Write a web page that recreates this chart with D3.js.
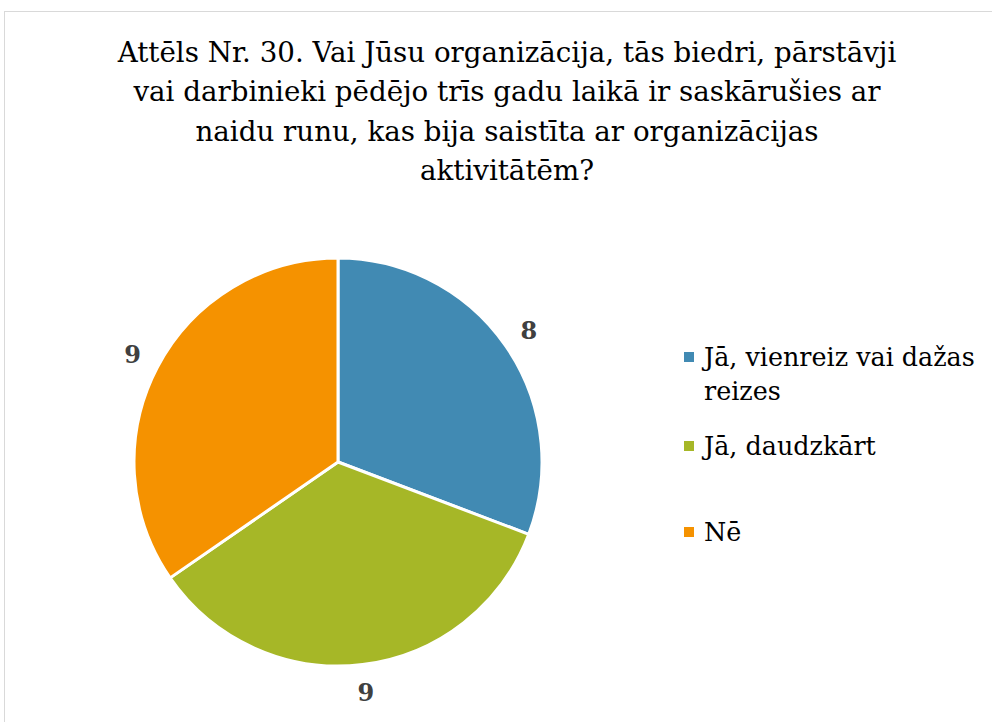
<!DOCTYPE html>
<html>
<head>
<meta charset="utf-8">
<script src="https://cdn.jsdelivr.net/npm/d3@7"></script>
<style>
  body { margin: 0; background: #fff; }
</style>
</head>
<body>
<script>
let width = 992;
let height = 722;
let font = '"DejaVu Serif", "Liberation Serif", serif';

var titleLines = [
  'Attēls Nr. 30. Vai Jūsu organizācija, tās biedri, pārstāvji',
  'vai darbinieki pēdējo trīs gadu laikā ir saskārušies ar',
  'naidu runu, kas bija saistīta ar organizācijas',
  'aktivitātēm?'
];
var categories = ['Jā, vienreiz vai dažas reizes', 'Jā, daudzkārt', 'Nē'];
var legendLines = [['Jā, vienreiz vai dažas', 'reizes'], ['Jā, daudzkārt'], ['Nē']];
var values = [8, 9, 9];
var colors = ['#418ab3', '#a6b727', '#f59200'];

var cx = 338, cy = 462, radius = 204;

var svg = d3.select('body')
            .append('svg')
            .attr('width', width)
            .attr('height', height);

// chart area border (only left and top visible)
svg.append('rect')
   .attr('x', 4.5).attr('y', 11.5)
   .attr('width', width + 10).attr('height', height + 10)
   .attr('fill', 'none').attr('stroke', '#d9d9d9').attr('stroke-width', 1);

// title
var title = svg.selectAll('.title')
   .data(titleLines)
   .enter().append('text')
   .attr('class', 'title')
   .attr('x', 507)
   .attr('y', (d, i) => 62 + i * 39.3)
   .attr('text-anchor', 'middle')
   .attr('font-family', font)
   .attr('font-size', 100)
   .attr('fill', '#000')
   .text(d => d);

// fit first line to the width it has in the picture
let w1 = title.node().getComputedTextLength();
title.attr('font-size', 100 * 779 / w1);

var pie = d3.pie().sort(null).value(d => d);
var arc = d3.arc().innerRadius(0).outerRadius(radius);
var labelArc = d3.arc().innerRadius(232).outerRadius(232);

var g = svg.append('g').attr('transform', 'translate(' + cx + ',' + cy + ')');
var arcs = pie(values);

g.selectAll('path')
 .data(arcs)
 .enter().append('path')
 .attr('d', arc)
 .attr('fill', (d, i) => colors[i])
 .attr('stroke', '#fff')
 .attr('stroke-width', 3)
 .attr('stroke-linejoin', 'round');

g.selectAll('.lbl')
 .data(arcs)
 .enter().append('text')
 .attr('class', 'lbl')
 .attr('transform', d => 'translate(' + labelArc.centroid(d) + ')')
 .attr('text-anchor', 'middle')
 .attr('dy', '0.35em')
 .attr('font-family', font)
 .attr('font-size', 24)
 .attr('font-weight', 'bold')
 .attr('fill', '#404040')
 .text(d => d.data);

// legend
var legendY = [357, 446, 532];
var legend = svg.selectAll('.legend')
   .data(categories)
   .enter().append('g')
   .attr('class', 'legend')
   .attr('transform', (d, i) => 'translate(684,' + legendY[i] + ')');

legend.append('rect')
   .attr('x', 0).attr('y', -5)
   .attr('width', 10).attr('height', 10)
   .attr('fill', (d, i) => colors[i]);

legend.each(function(d, i) {
  d3.select(this).selectAll('text')
    .data(legendLines[i])
    .enter().append('text')
    .attr('x', 20)
    .attr('y', (t, j) => j * 34)
    .attr('dy', '0.35em')
    .attr('font-family', font)
    .attr('font-size', 100)
    .attr('fill', '#000')
    .text(t => t);
});

// legend text scaled so the first entry spans the same width as in the picture
var legendTexts = legend.selectAll('text');
let lw = legendTexts.node().getComputedTextLength();
legendTexts.attr('font-size', 100 * 271 / lw);
</script>
</body>
</html>
